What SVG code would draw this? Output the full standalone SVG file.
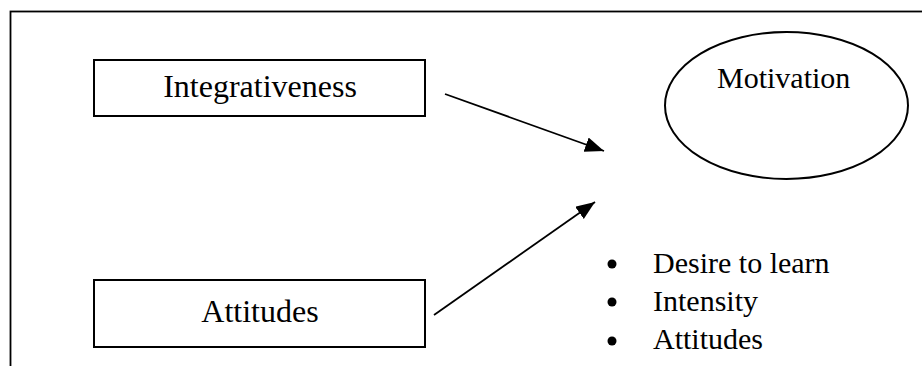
<svg xmlns="http://www.w3.org/2000/svg" width="922" height="366" viewBox="0 0 922 366">
  <style>
    .box { fill: #ffffff; stroke: #000000; stroke-width: 2; }
    .frame { fill: none; stroke: #000000; stroke-width: 1.8; }
    .lbl { font-family: "Liberation Serif", "Times New Roman", serif; fill: #000000; }
    .big { font-size: 32px; }
    .mid { font-size: 30px; }
    .conn { stroke: #000000; stroke-width: 1.8; fill: none; }
    .dot { fill: #000000; }
  </style>
  <defs>
    <marker id="arrow" markerUnits="userSpaceOnUse" markerWidth="20" markerHeight="16" refX="19" refY="7.5" orient="auto">
      <path d="M0,0 L19,7.5 L0,15 z" fill="#000000"/>
    </marker>
  </defs>
  <rect width="922" height="366" fill="#ffffff"/>
  <rect class="frame" x="10.5" y="11.5" width="930" height="380"/>

  <g id="integrativeness">
    <rect class="box" x="94" y="60" width="331" height="56"/>
    <text class="lbl big" x="260" y="97" text-anchor="middle">Integrativeness</text>
  </g>

  <g id="attitudes">
    <rect class="box" x="94" y="280" width="331" height="67"/>
    <text class="lbl big" x="260" y="322" text-anchor="middle">Attitudes</text>
  </g>

  <g id="motivation">
    <ellipse class="box" cx="786.5" cy="105.5" rx="121.5" ry="73.5"/>
    <text class="lbl mid" x="717" y="88">Motivation</text>
  </g>

  <g id="components">
    <circle class="dot" cx="612" cy="264" r="4.5"/>
    <text class="lbl mid" x="653" y="273">Desire to learn</text>
    <circle class="dot" cx="612" cy="302" r="4.5"/>
    <text class="lbl mid" x="653" y="311">Intensity</text>
    <circle class="dot" cx="612" cy="341" r="4.5"/>
    <text class="lbl mid" x="653" y="349">Attitudes</text>
  </g>

  <g id="connectors">
    <line class="conn" x1="445" y1="94" x2="604" y2="151" marker-end="url(#arrow)"/>
    <line class="conn" x1="434" y1="315" x2="595" y2="202" marker-end="url(#arrow)"/>
  </g>
</svg>
